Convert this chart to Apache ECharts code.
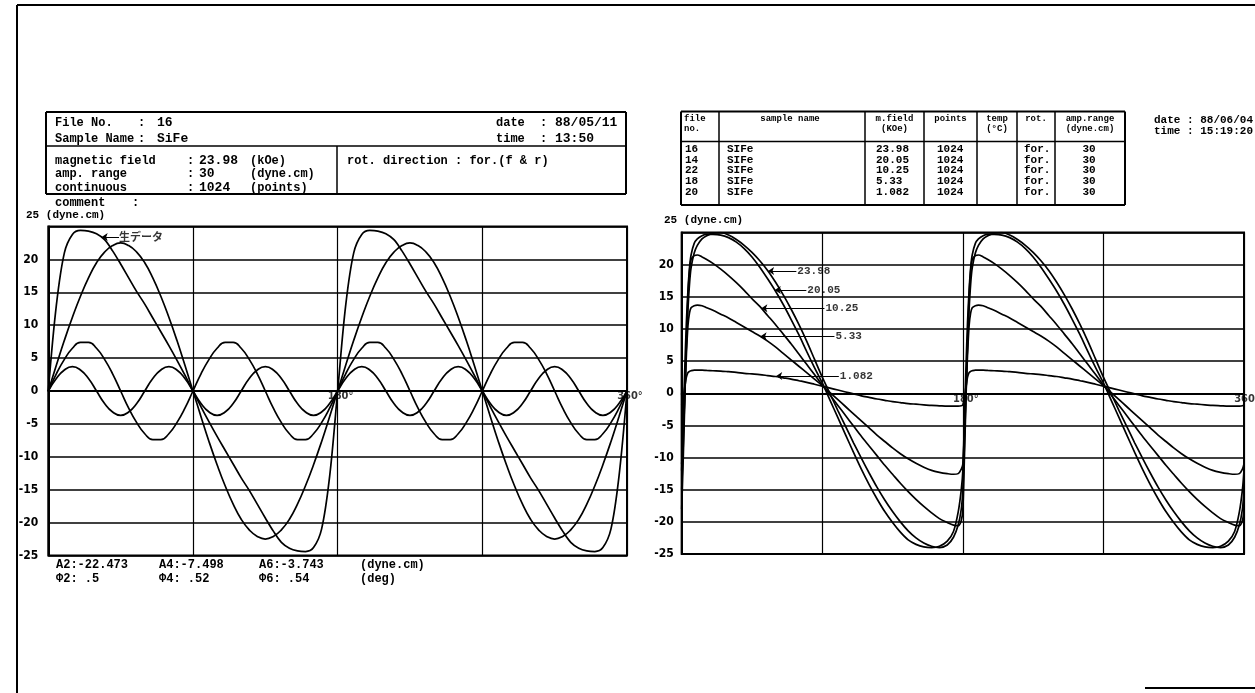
<!DOCTYPE html>
<html><head><meta charset="utf-8">
<script src="https://cdn.jsdelivr.net/npm/echarts@6/dist/echarts.min.js"></script>
<style>html,body{margin:0;padding:0;background:#fff}#c{width:1255px;height:693px}</style>
</head><body><div id="c"></div>
<script>
// ---------- LEFT CHART DATA (angle in deg, torque in dyne.cm) ----------
const leftAngles = [0,5,10,15,20,25,30,35,40,45,50,55,60,65,70,75,80,85,90,95,100,105,110,115,120,125,130,135,140,145,150,155,160,165,170,175,180,185,190,195,200,205,210,215,220,225,230,235,240,245,250,255,260,265,270,275,280,285,290,295,300,305,310,315,320,325,330,335,340,345,350,355,360];
const rawData = [0,13.0,21.0,23.8,24.4,24.3,23.9,23.0,21.3,19.3,17.2,15.1,13.2,11.1,9.0,6.9,4.7,2.4,
  0,-2.4,-4.7,-6.9,-9.0,-11.1,-13.2,-15.1,-17.2,-19.3,-21.3,-23.0,-23.9,-24.3,-24.4,-23.8,-21.0,-13.0,
  0,13.0,21.0,23.8,24.4,24.3,23.9,23.0,21.3,19.3,17.2,15.1,13.2,11.1,9.0,6.9,4.7,2.4,
  0,-2.4,-4.7,-6.9,-9.0,-11.1,-13.2,-15.1,-17.2,-19.3,-21.3,-23.0,-23.9,-24.3,-24.4,-23.8,-21.0,-13.0,0];
const a2Data = [0,3.9,7.7,11.2,14.4,17.2,19.5,21.1,22.1,22.5,22.1,21.1,19.5,17.2,14.4,11.2,7.7,3.9,
  0,-3.9,-7.7,-11.2,-14.4,-17.2,-19.5,-21.1,-22.1,-22.5,-22.1,-21.1,-19.5,-17.2,-14.4,-11.2,-7.7,-3.9,
  0,3.9,7.7,11.2,14.4,17.2,19.5,21.1,22.1,22.5,22.1,21.1,19.5,17.2,14.4,11.2,7.7,3.9,
  0,-3.9,-7.7,-11.2,-14.4,-17.2,-19.5,-21.1,-22.1,-22.5,-22.1,-21.1,-19.5,-17.2,-14.4,-11.2,-7.7,-3.9,0];
const a4Data = [0,2.6,4.8,6.5,7.4,7.4,6.5,4.8,2.6,0,-2.6,-4.8,-6.5,-7.4,-7.4,-6.5,-4.8,-2.6,
  0,2.6,4.8,6.5,7.4,7.4,6.5,4.8,2.6,0,-2.6,-4.8,-6.5,-7.4,-7.4,-6.5,-4.8,-2.6,
  0,2.6,4.8,6.5,7.4,7.4,6.5,4.8,2.6,0,-2.6,-4.8,-6.5,-7.4,-7.4,-6.5,-4.8,-2.6,
  0,2.6,4.8,6.5,7.4,7.4,6.5,4.8,2.6,0,-2.6,-4.8,-6.5,-7.4,-7.4,-6.5,-4.8,-2.6,0];
const a6Data = [0,1.9,3.2,3.7,3.2,1.9,0,-1.9,-3.2,-3.7,-3.2,-1.9,
  0,1.9,3.2,3.7,3.2,1.9,0,-1.9,-3.2,-3.7,-3.2,-1.9,
  0,1.9,3.2,3.7,3.2,1.9,0,-1.9,-3.2,-3.7,-3.2,-1.9,
  0,1.9,3.2,3.7,3.2,1.9,0,-1.9,-3.2,-3.7,-3.2,-1.9,
  0,1.9,3.2,3.7,3.2,1.9,0,-1.9,-3.2,-3.7,-3.2,-1.9,
  0,1.9,3.2,3.7,3.2,1.9,0,-1.9,-3.2,-3.7,-3.2,-1.9,0];
const harmonicNames = ['A2:-22.473','A4:-7.498','A6:-3.743','(dyne.cm)'];
const phaseNames = ['Φ2: .5','Φ4: .52','Φ6: .54','(deg)'];
const xTickLabels = [[180,'180°'],[360,'360°']];

// ---------- RIGHT CHART DATA ----------
const rightAngles = [0,1,2,3,4,5,6,8,10,13,16,20,25,30,35,40,45,50,55,60,65,70,75,80,85,90,95,100,105,110,115,120,125,130,135,140,145,150,155,160,165,170,174,177,179,
  180,181,182,183,184,185,186,188,190,193,196,200,205,210,215,220,225,230,235,240,245,250,255,260,265,270,275,280,285,290,295,300,305,310,315,320,325,330,335,340,345,350,354,357,359,360];
const f2398 = [-15,-8,0,7.5,13,17,19.5,21.8,23.0,24.0,24.5,24.9,25.0,24.6,23.9,23.0,21.9,20.6,19.1,17.3,15.3,13.1,10.7,8.1,5.3,2.5,-0.1,-2.7,-5.2,-7.7,-10.1,-12.4,-14.6,-16.6,-18.4,-20.0,-21.4,-22.5,-23.3,-23.8,-24.0,-23.6,-22.4,-20.5,-18.0,
  -15,-8,0,7.5,13,17,19.5,21.8,23.0,24.0,24.5,24.9,25.0,24.6,23.9,23.0,21.9,20.6,19.1,17.3,15.3,13.1,10.7,8.1,5.3,2.5,-0.1,-2.7,-5.2,-7.7,-10.1,-12.4,-14.6,-16.6,-18.4,-20.0,-21.4,-22.5,-23.3,-23.8,-24.0,-23.6,-22.4,-20.5,-18.0,-15];
const f2005 = [-12,-4,4,11,16,19.5,21.5,23.3,24.0,24.5,24.7,24.7,24.6,24.2,23.5,22.5,21.2,19.6,17.8,15.9,13.8,11.5,9.1,6.5,4.0,1.6,-1.1,-3.8,-6.5,-9.2,-11.8,-14.2,-16.4,-18.4,-20.1,-21.6,-22.8,-23.5,-23.9,-24.0,-23.8,-23.0,-21.5,-18.5,-15.0,
  -12,-4,4,11,16,19.5,21.5,23.3,24.0,24.5,24.7,24.7,24.6,24.2,23.5,22.5,21.2,19.6,17.8,15.9,13.8,11.5,9.1,6.5,4.0,1.6,-1.1,-3.8,-6.5,-9.2,-11.8,-14.2,-16.4,-18.4,-20.1,-21.6,-22.8,-23.5,-23.9,-24.0,-23.8,-23.0,-21.5,-18.5,-15.0,-12];
const f1025 = [-18,-10,-1,8,15,19,20.8,21.4,21.5,21.2,20.8,20.2,19.3,18.3,17.2,16.0,14.7,13.5,12.1,10.7,9.2,7.7,6.1,4.5,2.9,1.3,-0.3,-1.9,-3.5,-5.1,-6.7,-8.2,-9.7,-11.2,-12.6,-14.0,-15.3,-16.5,-17.6,-18.6,-19.5,-20.1,-20.5,-20.6,-19.8,
  -18,-10,-1,8,15,19,20.8,21.4,21.5,21.2,20.8,20.2,19.3,18.3,17.2,16.0,14.7,13.5,12.1,10.7,9.2,7.7,6.1,4.5,2.9,1.3,-0.3,-1.9,-3.5,-5.1,-6.7,-8.2,-9.7,-11.2,-12.6,-14.0,-15.3,-16.5,-17.6,-18.6,-19.5,-20.1,-20.5,-20.6,-19.8,-18];
const f533 = [-11,-6,0,6,10.5,12.5,13.3,13.6,13.7,13.6,13.3,12.9,12.3,11.7,11.0,10.3,9.6,8.9,8.1,7.2,6.2,5.2,4.2,3.2,2.2,1.2,0.1,-1.0,-2.1,-3.2,-4.3,-5.4,-6.5,-7.5,-8.5,-9.4,-10.2,-10.9,-11.5,-12.0,-12.3,-12.5,-12.6,-12.5,-11.8,
  -11,-6,0,6,10.5,12.5,13.3,13.6,13.7,13.6,13.3,12.9,12.3,11.7,11.0,10.3,9.6,8.9,8.1,7.2,6.2,5.2,4.2,3.2,2.2,1.2,0.1,-1.0,-2.1,-3.2,-4.3,-5.4,-6.5,-7.5,-8.5,-9.4,-10.2,-10.9,-11.5,-12.0,-12.3,-12.5,-12.6,-12.5,-11.8,-11];
const f1082 = [-1.8,-0.6,1.0,2.5,3.2,3.4,3.5,3.6,3.6,3.6,3.55,3.5,3.45,3.35,3.25,3.1,3.0,2.9,2.75,2.6,2.4,2.2,1.95,1.7,1.4,1.1,0.8,0.5,0.2,-0.1,-0.4,-0.65,-0.9,-1.1,-1.3,-1.45,-1.6,-1.7,-1.8,-1.9,-1.95,-2.0,-2.0,-2.0,-1.95,
  -1.8,-0.6,1.0,2.5,3.2,3.4,3.5,3.6,3.6,3.6,3.55,3.5,3.45,3.35,3.25,3.1,3.0,2.9,2.75,2.6,2.4,2.2,1.95,1.7,1.4,1.1,0.8,0.5,0.2,-0.1,-0.4,-0.65,-0.9,-1.1,-1.3,-1.45,-1.6,-1.7,-1.8,-1.9,-1.95,-2.0,-2.0,-2.0,-1.95,-1.8];
const fieldLabels = ['23.98','20.05','10.25','5.33','1.082'];
// label anchor [angle, torque] and arrow tip angle for each field curve
const labelAt = [[73.4,19.0],[79.8,16.05],[91.4,13.2],[97.8,8.85],[100.6,2.7]];
const arrowTip = [55.3,59.6,51.0,50.5,60.5];

// ---------- TABLE / HEADER DATA ----------
const tblFileNo = ['16','14','22','18','20'];
const tblSample = ['SIFe','SIFe','SIFe','SIFe','SIFe'];
const tblField = ['23.98','20.05','10.25','5.33','1.082'];
const tblPoints = ['1024','1024','1024','1024','1024'];
const tblRot = ['for.','for.','for.','for.','for.'];
const tblAmp = ['30','30','30','30','30'];

const MONO = '"Liberation Mono","DejaVu Sans Mono",monospace';
const NARROW = '"Liberation Sans Narrow","DejaVu Sans Condensed","Liberation Sans",sans-serif';
const CJK = '"Noto Sans CJK JP",sans-serif';

const G = [];
function T(x, y, text, size, align, fam, weight) {
  G.push({type:'text', x:x, y:y, silent:true, z:10,
    style:{text:text, fill:'#000', font:(weight||'bold')+' '+size+'px '+(fam||MONO), align:align||'left', verticalAlign:'middle'}});
}
function L(x1,y1,x2,y2,w){
  G.push({type:'line', silent:true, z:10, shape:{x1:x1,y1:y1,x2:x2,y2:y2}, style:{stroke:'#000', lineWidth:w||1.5}});
}
// page frame
L(17,5,1255,5,2); L(17,5,17,693,2); L(1145,688,1255,688,2);
// left header box
L(46,112,626,112,2); L(46,194,626,194,2); L(46,112,46,194,2); L(626,112,626,194,2);
L(46,146,626,146,1.5); L(337,146,337,194,1.5);
T(55,123,'File No.',12); T(138,123,':',12); T(157,123,'16',13);
T(55,139,'Sample Name',12); T(138,139,':',12); T(157,139,'SiFe',13);
T(496,123,'date',12); T(540,123,':',12); T(555,123,'88/05/11',13);
T(496,139,'time',12); T(540,139,':',12); T(555,139,'13:50',13);
T(55,160.5,'magnetic field',12); T(187,160.5,':',12); T(199,160.5,'23.98',13); T(250,160.5,'(kOe)',12);
T(55,174,'amp. range',12); T(187,174,':',12); T(199,174,'30',13); T(250,174,'(dyne.cm)',12);
T(55,187.5,'continuous',12); T(187,187.5,':',12); T(199,187.5,'1024',13); T(250,187.5,'(points)',12);
T(347,160.5,'rot. direction : for.(f & r)',12);
T(55,203,'comment',12); T(132,203,':',12);
T(26,215,'25 (dyne.cm)',11);
// bottom harmonic texts
const colX = [56,159,259,360];
harmonicNames.forEach((s,i)=>T(colX[i],565,s,12));
phaseNames.forEach((s,i)=>T(colX[i],579,s,12));
// right table
L(681,111.5,1125,111.5,2); L(681,205,1125,205,2); L(681,111.5,681,205,2); L(1125,111.5,1125,205,2);
L(681,141.5,1125,141.5,1.5);
[719,865,924,977,1017,1055].forEach(x=>L(x,111.5,x,205,1.5));
T(684,119,'file',9); T(684,129,'no.',9);
T(790,119,'sample name',9,'center');
T(894.5,119,'m.field',9,'center'); T(894.5,129,'(KOe)',9,'center');
T(950.5,119,'points',9,'center');
T(997,119,'temp',9,'center'); T(997,129,'(°C)',9,'center');
T(1036,119,'rot.',9,'center');
T(1090,119,'amp.range',9,'center'); T(1090,129,'(dyne.cm)',9,'center');
const rowY = [149,160,170.5,181,192];
rowY.forEach((y,i)=>{
  T(685,y,tblFileNo[i],11); T(727,y,tblSample[i],11); T(876,y,tblField[i],11);
  T(937,y,tblPoints[i],11); T(1024,y,tblRot[i],11); T(1089,y,tblAmp[i],11,'center');
});
T(1154,120,'date : 88/06/04',11); T(1154,131,'time : 15:19:20',11);
T(664,220,'25 (dyne.cm)',11);

function yAxisCfg(grid, margin){
  return {type:'value', gridIndex:grid, min:-25, max:25, interval:5,
    axisLine:{show:true, lineStyle:{color:'#000', width:2}}, axisTick:{show:false},
    axisLabel:{margin:margin, color:'#000', fontFamily:NARROW, fontWeight:'bold', fontSize:12,
      formatter:v=> v===25 ? '' : String(v)},
    splitLine:{show:true, lineStyle:{color:'#000', width:1.5}}};
}
function xAxisCfg(grid){
  return {type:'value', gridIndex:grid, min:0, max:360, interval:90,
    axisLine:{show:true, lineStyle:{color:'#000', width:2}}, axisTick:{show:false},
    axisLabel:{show:false},
    splitLine:{show:true, lineStyle:{color:'#000', width:1.2}}};
}
const lineStyle = {color:'#000', width:1.7};
function curve(xi, xs, ys, smooth){
  return {type:'line', xAxisIndex:xi, yAxisIndex:xi, data:xs.map((a,i)=>[a,ys[i]]),
    showSymbol:false, smooth:smooth, lineStyle:lineStyle, itemStyle:{color:'#000'}, z:3};
}
function arrow(from, tipX){
  return [{coord:from}, {coord:[tipX, from[1]]}];
}
function tickLabelSeries(xi){
  return {type:'scatter', xAxisIndex:xi, yAxisIndex:xi, symbolSize:0, silent:true, z:6,
    data:xTickLabels.map(t=>({value:[t[0],0], name:t[1]})),
    label:{show:true, position:'bottom', distance:0, offset:[3,0], formatter:p=>p.name, color:'#000',
      fontFamily:NARROW, fontWeight:'bold', fontSize:11}};
}
const series = [
  curve(0,leftAngles,rawData,0.35),
  curve(0,leftAngles,a2Data,0.5),
  curve(0,leftAngles,a4Data,0.5),
  curve(0,leftAngles,a6Data,0.5)
];
series[0].markLine = {silent:true, symbol:['none','arrow'], symbolSize:6, animation:false,
  label:{show:false}, lineStyle:{color:'#000', width:1, type:'solid'},
  data:[[{coord:[44,23.4]},{coord:[33.2,23.4]}]]};
const rightSets = [f2398,f2005,f1025,f533,f1082];
rightSets.forEach((ys,k)=>{
  const s = curve(1,rightAngles,ys,0.3);
  s.markLine = {silent:true, symbol:['none','arrow'], symbolSize:6, animation:false,
    label:{show:false}, lineStyle:{color:'#000', width:1, type:'solid'},
    data:[arrow(labelAt[k],arrowTip[k])]};
  series.push(s);
});
series.push({type:'scatter', xAxisIndex:1, yAxisIndex:1, symbolSize:0, silent:true, z:5,
  data:labelAt.map((p,k)=>({value:p, name:fieldLabels[k]})),
  label:{show:true, position:'right', distance:1, formatter:p=>p.name, color:'#000',
    fontFamily:MONO, fontWeight:'bold', fontSize:11}});
series.push({type:'scatter', xAxisIndex:0, yAxisIndex:0, symbolSize:0, silent:true, z:5,
  data:[{value:[44,23.4], name:'生データ'}],
  label:{show:true, position:'right', distance:0, formatter:p=>p.name, color:'#000',
    fontFamily:CJK, fontWeight:'bold', fontSize:11}});
series.push(tickLabelSeries(0));
series.push(tickLabelSeries(1));

const chart = echarts.init(document.getElementById('c'), null, {renderer:'canvas'});
chart.setOption({
  animation:false,
  backgroundColor:'#fff',
  grid:[
    {left:48.3, top:226.5, width:578.7, height:329, show:true, borderColor:'#000', borderWidth:2, backgroundColor:'transparent'},
    {left:681.7, top:232.5, width:562.3, height:321.5, show:true, borderColor:'#000', borderWidth:2, backgroundColor:'transparent'}
  ],
  xAxis:[xAxisCfg(0), xAxisCfg(1)],
  yAxis:[yAxisCfg(0,10), yAxisCfg(1,8)],
  series:series,
  graphic:G
});
</script></body></html>
